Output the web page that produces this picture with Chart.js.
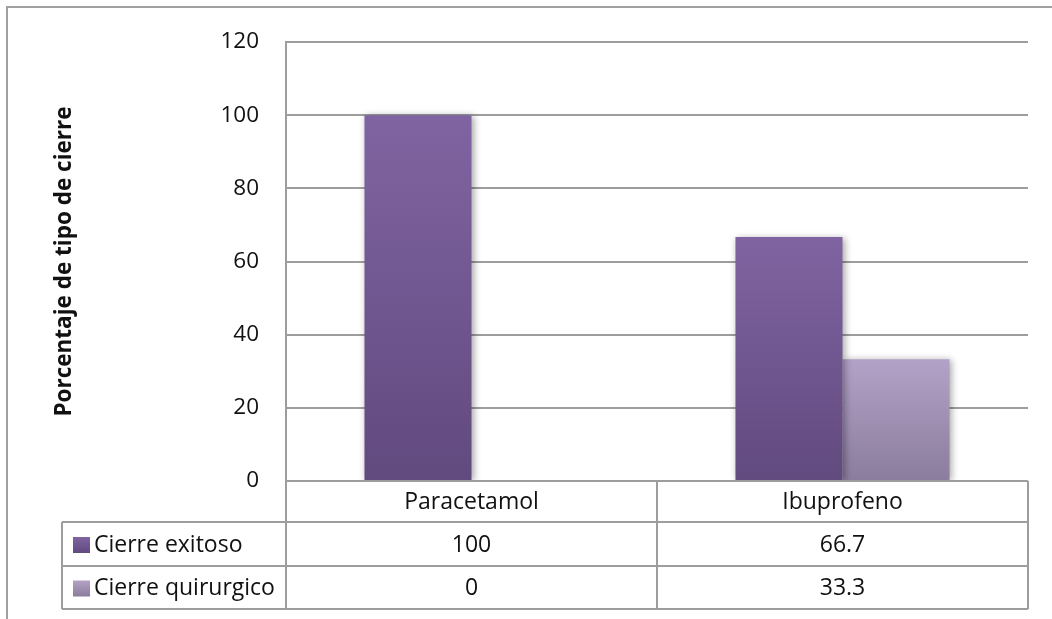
<!DOCTYPE html>
<html>
<head>
<meta charset="utf-8">
<script src="https://cdn.jsdelivr.net/npm/chart.js@4.4.1/dist/chart.umd.min.js"></script>
<style>
  html, body { margin: 0; padding: 0; background: #fff; }
  #wrap { width: 1052px; height: 619px; position: relative; }
</style>
</head>
<body>
<div id="wrap"><canvas id="chart" width="1052" height="619"></canvas></div>
<script>
// ── Data ──
const categories = ["Paracetamol", "Ibuprofeno"];
const seriesNames = ["Cierre exitoso", "Cierre quirurgico"];
const exitoso = [100, 66.7];
const quirurgico = [0, 33.3];
const yTicks = [0, 20, 40, 60, 80, 100, 120];
const yTitle = "Porcentaje de tipo de cierre";

// gradient stops per series (top → bottom)
const GRAD = [
  ["#8064a2", "#614a7e"],
  ["#b3a2c7", "#8b7d9d"],
];
const LINE = "#9d9d9d";
const FONT = "'Open Sans', sans-serif";

function barFill(idx) {
  return (ctx) => {
    const c = ctx.chart;
    if (!c.chartArea || ctx.raw == null) return GRAD[idx][0];
    const y = c.scales.y;
    const top = y.getPixelForValue(ctx.raw);
    const bot = y.getPixelForValue(0);
    if (bot - top < 1) return GRAD[idx][0];
    const g = c.ctx.createLinearGradient(0, top, 0, bot);
    g.addColorStop(0, GRAD[idx][0]);
    g.addColorStop(1, GRAD[idx][1]);
    return g;
  };
}

// soft drop shadow under the bars
const barShadow = {
  id: "barShadow",
  beforeDatasetsDraw(chart) {
    const ctx = chart.ctx;
    ctx.save();
    ctx.shadowColor = "rgba(0,0,0,0.35)";
    ctx.shadowBlur = 7;
    ctx.shadowOffsetX = 2;
    ctx.shadowOffsetY = 1;
  },
  afterDatasetsDraw(chart) {
    chart.ctx.restore();
  }
};

// outer frame, axis title and the data table under the plot
const dataTable = {
  id: "dataTable",
  afterDraw(chart) {
    const ctx = chart.ctx;
    const area = chart.chartArea;
    const x = chart.scales.x;
    const rowH = [41, 44, 43];
    const r0 = area.bottom, r1 = r0 + rowH[0], r2 = r1 + rowH[1], r3 = r2 + rowH[2];
    const leftCol = 62;
    const half = (x.getPixelForValue(1) - x.getPixelForValue(0)) / 2;

    ctx.save();
    ctx.strokeStyle = "#a0a0a0";
    ctx.lineWidth = 2;
    // outer frame
    ctx.beginPath();
    ctx.moveTo(7, 619);
    ctx.lineTo(7, 7);
    ctx.lineTo(1052, 7);
    ctx.stroke();

    // table grid
    ctx.strokeStyle = LINE;
    ctx.beginPath();
    ctx.moveTo(area.left, area.top); ctx.lineTo(area.left, r3);
    [r1, r2, r3].forEach(y => { ctx.moveTo(leftCol, y); ctx.lineTo(area.right, y); });
    ctx.moveTo(area.left, r0); ctx.lineTo(area.right, r0);
    ctx.moveTo(leftCol, r1); ctx.lineTo(leftCol, r3);
    categories.forEach((_, i) => {
      const xr = x.getPixelForValue(i) + half;
      ctx.moveTo(xr, r0); ctx.lineTo(xr, r3);
    });
    ctx.stroke();

    // header row: category names
    ctx.fillStyle = "#111";
    ctx.font = "23px " + FONT;
    ctx.textAlign = "center";
    ctx.textBaseline = "middle";
    categories.forEach((c, i) => ctx.fillText(c, x.getPixelForValue(i), (r0 + r1) / 2 + 1));

    // series rows
    const rows = [exitoso, quirurgico];
    const mids = [(r1 + r2) / 2 + 1, (r2 + r3) / 2 + 1];
    rows.forEach((vals, s) => {
      const my = mids[s];
      const g = ctx.createLinearGradient(0, my - 8, 0, my + 8);
      g.addColorStop(0, GRAD[s][0]);
      g.addColorStop(1, GRAD[s][1]);
      ctx.fillStyle = g;
      ctx.fillRect(73, my - 8, 17, 16);
      ctx.fillStyle = "#111";
      ctx.textAlign = "left";
      ctx.fillText(seriesNames[s], 94, my);
      ctx.textAlign = "center";
      vals.forEach((v, i) => ctx.fillText(String(v), x.getPixelForValue(i), my));
    });

    // y axis title
    ctx.font = "bold 22.5px " + FONT;
    ctx.translate(65, (area.top + area.bottom) / 2);
    ctx.rotate(-Math.PI / 2);
    ctx.fillText(yTitle, 0, 0);
    ctx.restore();
  }
};

new Chart(document.getElementById("chart"), {
  type: "bar",
  data: {
    labels: categories,
    datasets: [
      { label: seriesNames[0], data: exitoso, backgroundColor: barFill(0) },
      { label: seriesNames[1], data: quirurgico, backgroundColor: barFill(1) },
    ]
  },
  options: {
    responsive: false,
    animation: false,
    devicePixelRatio: 1,
    layout: { padding: { top: 42, right: 24, bottom: 138, left: 0 } },
    plugins: { legend: { display: false }, tooltip: { enabled: false } },
    datasets: { bar: { categoryPercentage: 0.577, barPercentage: 1, borderWidth: 0 } },
    scales: {
      x: { display: false },
      y: {
        min: 0, max: 120,
        afterFit(scale) { scale.width = 286; },
        afterBuildTicks(scale) { scale.ticks = yTicks.map(v => ({ value: v })); },
        grid: { color: LINE, lineWidth: 2, drawTicks: false },
        border: { display: true, color: LINE, width: 2 },
        ticks: {
          padding: 27,
          color: "#111",
          font: { family: FONT, size: 22.5 }
        }
      }
    }
  },
  plugins: [barShadow, dataTable]
});
</script>
</body>
</html>
